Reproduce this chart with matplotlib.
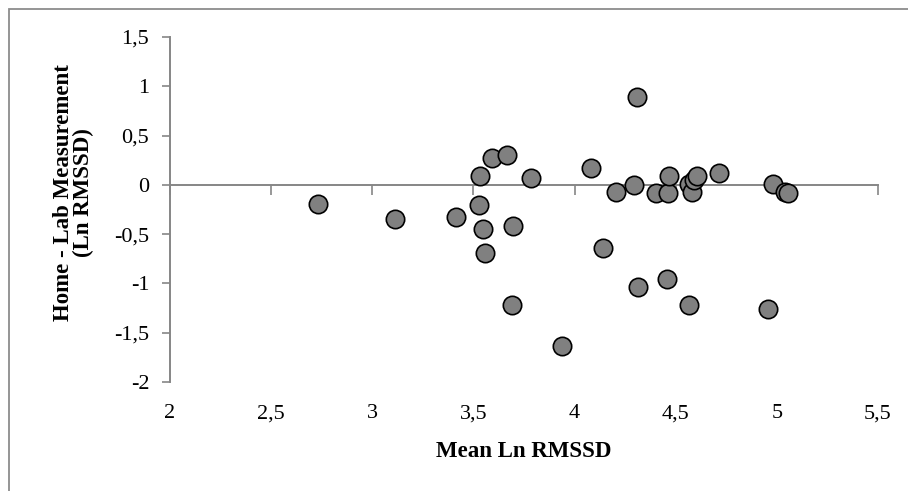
#!/usr/bin/env python3
"""Bland-Altman style scatter: home minus lab Ln RMSSD vs mean Ln RMSSD."""

import matplotlib
matplotlib.use("Agg")
import matplotlib.pyplot as plt
from matplotlib.patches import Rectangle

# values
mean_ln_rmssd = [2.73, 3.114, 3.413, 3.532, 3.594, 3.667, 3.787, 3.527, 3.548,
                 3.558, 3.696, 3.69, 3.94, 4.081, 4.139, 4.206, 4.293, 4.307,
                 4.315, 4.40, 4.455, 4.46, 4.465, 4.565, 4.567, 4.578, 4.591,
                 4.605, 4.715, 4.958, 4.98, 5.039, 5.054]
diff_ln_rmssd = [-0.19, -0.348, -0.325, 0.091, 0.277, 0.304, 0.068, -0.20, -0.45,
                 -0.693, -0.413, -1.214, -1.63, 0.169, -0.639, -0.074, 0.003, 0.892,
                 -1.037, -0.085, -0.957, -0.078, 0.095, -1.214, 0.007, -0.071, 0.051,
                 0.085, 0.125, -1.258, 0.007, -0.068, -0.085]

x_ticks = [2, 2.5, 3, 3.5, 4, 4.5, 5, 5.5]
x_tick_labels = ["2", "2,5", "3", "3,5", "4", "4,5", "5", "5,5"]
y_ticks = [-2, -1.5, -1, -0.5, 0, 0.5, 1, 1.5]
y_tick_labels = ["-2", "-1,5", "-1", "-0,5", "0", "0,5", "1", "1,5"]

AXIS_GREY = "#868686"
FONT = ["Liberation Serif", "DejaVu Serif"]

plt.rcParams["font.family"] = FONT

fig = plt.figure(figsize=(9.08, 4.91), dpi=100)
ax = fig.add_axes([0.1872, 0.222, 0.7798, 0.7026])

# outer chart frame (right and bottom edges run off the picture)
fig.patches.append(Rectangle((9 / 908, -0.05), 1.1, 1 - 9 / 491 + 0.05,
                             transform=fig.transFigure, fill=False,
                             edgecolor="#8c8c8c", linewidth=1.3, zorder=0))

ax.scatter(mean_ln_rmssd, diff_ln_rmssd, s=175, c="#808080",
           edgecolors="black", linewidths=1.2, zorder=3, clip_on=False)

ax.set_xlim(2, 5.5)
ax.set_ylim(-2, 1.5)

for side in ["top", "right"]:
    ax.spines[side].set_visible(False)
ax.spines["left"].set_color(AXIS_GREY)
ax.spines["left"].set_linewidth(1.4)
ax.spines["bottom"].set_position(("data", 0))
ax.spines["bottom"].set_color(AXIS_GREY)
ax.spines["bottom"].set_linewidth(1.4)

ax.set_yticks(y_ticks)
ax.set_yticklabels(y_tick_labels)
ax.tick_params(axis="y", direction="out", length=6, width=1.2,
               color=AXIS_GREY, labelsize=16, pad=9)

# x ticks sit on the zero line, labels at the bottom of the plot area
ax.set_xticks(x_ticks)
ax.tick_params(axis="x", direction="out", length=7, width=1.2,
               color=AXIS_GREY, labelbottom=False)

sec = ax.secondary_xaxis("bottom")
sec.set_xticks(x_ticks)
sec.set_xticklabels(x_tick_labels)
sec.spines["bottom"].set_visible(False)
sec.tick_params(axis="x", length=0, labelsize=16, pad=16)
sec.set_xlabel("Mean Ln RMSSD", fontsize=16.5, fontweight="bold", labelpad=13)

ax.set_ylabel("Home - Lab Measurement\n(Ln RMSSD)", fontsize=16.5,
              fontweight="bold", linespacing=0.95)
ax.yaxis.set_label_coords(-0.107, 0.55)

fig.savefig("out.png", dpi=100)
